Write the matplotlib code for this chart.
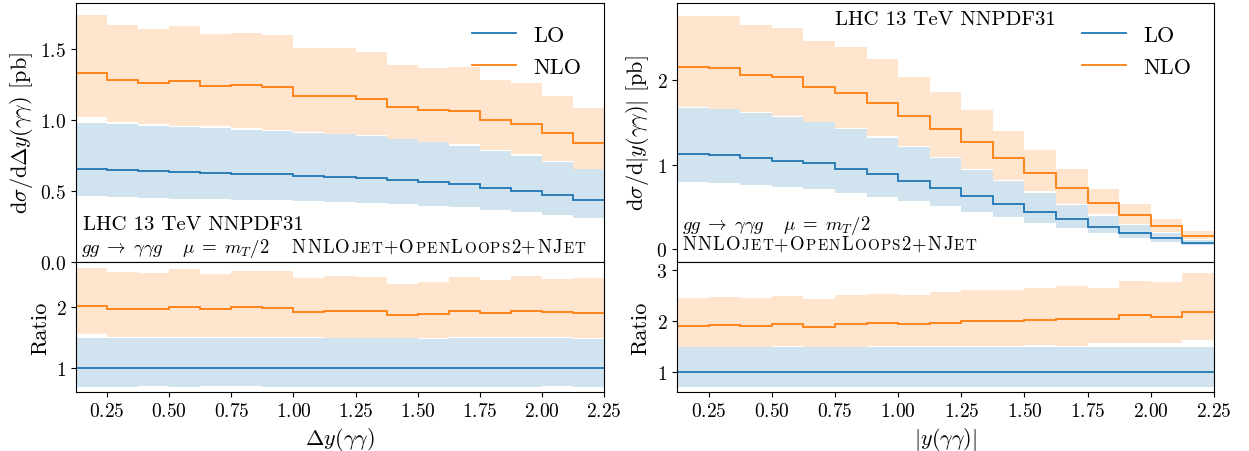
import numpy as np
import matplotlib
matplotlib.use("Agg")
import matplotlib.pyplot as plt
from matplotlib.offsetbox import TextArea, HPacker, AnchoredOffsetbox
from matplotlib.ticker import FixedLocator

plt.rcParams.update({
    'font.family': 'serif',
    'font.serif': ['cmr10'],
    'mathtext.fontset': 'cm',
    'axes.formatter.use_mathtext': True,
    'axes.unicode_minus': False,
})

# ---------------- data ----------------
bin_edges = [0.125, 0.25, 0.375, 0.5, 0.625, 0.75, 0.875, 1.0, 1.125, 1.25,
             1.375, 1.5, 1.625, 1.75, 1.875, 2.0, 2.125, 2.25]

# Delta y(gamma gamma)
dy_lo = [0.654, 0.647, 0.638, 0.633, 0.628, 0.621, 0.617, 0.607, 0.600,
         0.591, 0.579, 0.565, 0.547, 0.523, 0.500, 0.472, 0.437]
dy_lo_up = [0.976, 0.968, 0.955, 0.947, 0.939, 0.929, 0.922, 0.908, 0.897,
            0.884, 0.864, 0.842, 0.817, 0.781, 0.747, 0.705, 0.651]
dy_lo_dn = [0.461, 0.455, 0.450, 0.446, 0.443, 0.438, 0.434, 0.427, 0.422,
            0.416, 0.407, 0.397, 0.385, 0.368, 0.352, 0.333, 0.308]
dy_nlo = [1.325, 1.280, 1.259, 1.273, 1.236, 1.241, 1.229, 1.168, 1.166,
          1.145, 1.089, 1.068, 1.061, 1.000, 0.972, 0.909, 0.836]
dy_nlo_up = [1.734, 1.664, 1.636, 1.659, 1.600, 1.610, 1.598, 1.507, 1.507,
             1.477, 1.383, 1.362, 1.367, 1.280, 1.255, 1.166, 1.082]
dy_nlo_dn = [1.019, 0.981, 0.970, 0.958, 0.953, 0.940, 0.930, 0.915, 0.900,
             0.890, 0.866, 0.845, 0.826, 0.790, 0.760, 0.713, 0.656]

# |y(gamma gamma)|
y_lo = [1.124, 1.112, 1.081, 1.045, 1.014, 0.951, 0.884, 0.809, 0.723,
        0.629, 0.538, 0.444, 0.354, 0.267, 0.193, 0.130, 0.072]
y_lo_up = [1.670, 1.658, 1.611, 1.558, 1.508, 1.418, 1.318, 1.205, 1.078,
           0.937, 0.802, 0.662, 0.527, 0.398, 0.288, 0.194, 0.107]
y_lo_dn = [0.790, 0.782, 0.760, 0.735, 0.713, 0.668, 0.621, 0.568, 0.508,
           0.442, 0.378, 0.312, 0.249, 0.188, 0.136, 0.091, 0.051]
y_nlo = [2.149, 2.138, 2.059, 2.035, 1.914, 1.847, 1.733, 1.572, 1.415,
         1.265, 1.077, 0.900, 0.727, 0.546, 0.409, 0.271, 0.157]
y_nlo_up = [2.758, 2.750, 2.648, 2.609, 2.464, 2.385, 2.248, 2.031, 1.855,
            1.646, 1.403, 1.175, 0.951, 0.707, 0.538, 0.361, 0.212]
y_nlo_dn = [1.678, 1.658, 1.619, 1.580, 1.509, 1.430, 1.344, 1.226, 1.088,
            0.951, 0.813, 0.684, 0.538, 0.420, 0.303, 0.204, 0.118]

series_labels = ["LO", "NLO"]
c_lo = "#1f77b4"
c_nlo = "#ff7f0e"

tool_pieces = [("NNLO", 1), ("JET", 0), ("+O", 1), ("PEN", 0), ("L", 1),
               ("OOPS", 0), ("2+NJ", 1), ("ET", 0)]
process_txt = r"$gg \;\rightarrow\; \gamma\gamma g \quad\; \mu \;=\; m_T/2$"
lhc_txt = "LHC 13 TeV NNPDF31"

# ---------------- figure ----------------
W, H = 1249, 452
fig = plt.figure(figsize=(W / 100, H / 100), dpi=100)

def fx(px):
    return px / W

def fy(py):
    return 1 - py / H

top_y0, top_y1 = 4, 263
rat_y1 = 393
panels_x = [(76, 604), (677, 1214)]

TICK_FS = 14
LAB_FS = 16
LEG_FS = 16
SMALL_FS = 13.5
SC_SCALE = 0.8
TRACK = 0.9


def sc_row(pieces, size):
    kids = []
    for s, big in pieces:
        for ch in s:
            kids.append(TextArea(ch, textprops=dict(
                fontsize=size if big else size * SC_SCALE)))
    return HPacker(children=kids, align="baseline", pad=0, sep=TRACK)


def draw(x0, x1, lo, lo_up, lo_dn, nlo, nlo_up, nlo_dn, ylab, xlab, ylim,
         yticks, rlim, rticks):
    edges = np.array(bin_edges)
    lo = np.array(lo); lo_up = np.array(lo_up); lo_dn = np.array(lo_dn)
    nlo = np.array(nlo); nlo_up = np.array(nlo_up); nlo_dn = np.array(nlo_dn)
    axt = fig.add_axes([fx(x0), fy(top_y1), fx(x1 - x0), (top_y1 - top_y0) / H])
    axr = fig.add_axes([fx(x0), fy(rat_y1), fx(x1 - x0), (rat_y1 - top_y1) / H],
                       sharex=axt)
    for ax, (a, au, ad, b, bu, bd) in [
            (axt, (lo, lo_up, lo_dn, nlo, nlo_up, nlo_dn)),
            (axr, (lo / lo, lo_up / lo, lo_dn / lo, nlo / lo, nlo_up / lo, nlo_dn / lo))]:
        ax.stairs(au, edges, baseline=ad, fill=True, color=c_lo, alpha=0.2, lw=0)
        ax.stairs(bu, edges, baseline=bd, fill=True, color=c_nlo, alpha=0.2, lw=0)
        ax.stairs(a, edges, color=c_lo, lw=1.3, baseline=None, label=series_labels[0])
        ax.stairs(b, edges, color=c_nlo, lw=1.3, baseline=None, label=series_labels[1])
        ax.tick_params(labelsize=TICK_FS)
    axt.set_xlim(bin_edges[0], bin_edges[-1])
    axt.set_ylim(*ylim)
    axt.yaxis.set_major_locator(FixedLocator(yticks))
    axr.set_ylim(*rlim)
    axr.yaxis.set_major_locator(FixedLocator(rticks))
    axr.xaxis.set_major_locator(FixedLocator([0.25, 0.5, 0.75, 1.0, 1.25, 1.5,
                                              1.75, 2.0, 2.25]))
    axt.tick_params(axis='x', bottom=False, labelbottom=False)
    axt.set_ylabel(ylab, fontsize=LAB_FS)
    axr.set_ylabel("Ratio", fontsize=LAB_FS)
    axr.set_xlabel(xlab, fontsize=LAB_FS)
    axt.legend(loc="upper right", frameon=False, fontsize=LEG_FS,
               handlelength=2.0, labelspacing=0.55, borderaxespad=0.6)
    return axt, axr


axt1, axr1 = draw(*panels_x[0], dy_lo, dy_lo_up, dy_lo_dn, dy_nlo, dy_nlo_up,
                  dy_nlo_dn, r"$\mathrm{d}\sigma/\mathrm{d}\Delta y(\gamma\gamma)$ [pb]",
                  r"$\Delta y(\gamma\gamma)$", (0.0, 1.82), [0.0, 0.5, 1.0, 1.5],
                  (0.615, 2.742), [1, 2])
axt2, axr2 = draw(*panels_x[1], y_lo, y_lo_up, y_lo_dn, y_nlo, y_nlo_up,
                  y_nlo_dn, r"$\mathrm{d}\sigma/\mathrm{d}|y(\gamma\gamma)|$ [pb]",
                  r"$|y(\gamma\gamma)|$", (-0.149, 2.908), [0, 1, 2],
                  (0.61, 3.165), [1, 2, 3])

# left panel annotations
axt1.text(0.013, 0.127, lhc_txt, transform=axt1.transAxes, fontsize=15,
          va="baseline", ha="left")
row = HPacker(children=[TextArea(process_txt, textprops=dict(fontsize=SMALL_FS)),
                        sc_row(tool_pieces, SMALL_FS)],
              align="baseline", pad=0, sep=16)
axt1.add_artist(AnchoredOffsetbox(loc="lower left", child=row, pad=0, borderpad=0,
                                  frameon=False, bbox_to_anchor=(0.01, 0.012),
                                  bbox_transform=axt1.transAxes))

# right panel annotations
axt2.text(0.5, 0.919, lhc_txt, transform=axt2.transAxes, fontsize=15,
          va="baseline", ha="center")
axt2.text(0.01, 0.127, process_txt, transform=axt2.transAxes, fontsize=SMALL_FS,
          va="baseline", ha="left")
axt2.add_artist(AnchoredOffsetbox(loc="lower left", child=sc_row(tool_pieces, SMALL_FS),
                                  pad=0, borderpad=0, frameon=False,
                                  bbox_to_anchor=(0.01, 0.034),
                                  bbox_transform=axt2.transAxes))

fig.savefig("out.png", dpi=100)
